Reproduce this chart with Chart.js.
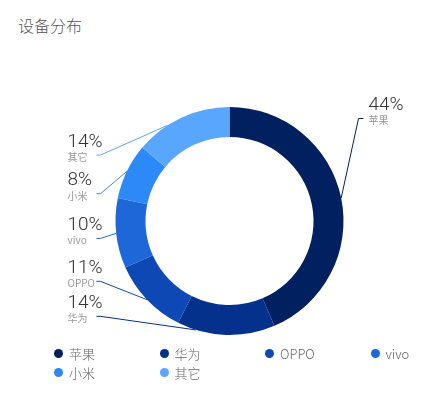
<!DOCTYPE html>
<html>
<head>
<meta charset="utf-8">
<title>设备分布</title>
<script src="https://cdn.jsdelivr.net/npm/chart.js@4.4.0/dist/chart.umd.min.js"></script>
<style>
  body { margin: 0; background: #fff; font-family: "Noto Sans CJK SC", "Noto Sans", sans-serif; }
  #wrap { position: relative; width: 442px; height: 409px; }
  #grafico { position: absolute; left: 0; top: 0; }
  #titulo { position: absolute; left: 18px; top: 16px; font-size: 16px; line-height: 18px; color: #555; font-weight: 300; }
  #leyenda { position: absolute; left: 54px; top: 344px; display: grid;
             grid-template-columns: repeat(4, 105.5px); grid-auto-rows: 19px;
             font-size: 13px; color: #666; font-weight: 300; }
  .item { display: flex; align-items: center; }
  .punto { width: 9px; height: 9px; border-radius: 50%; margin-right: 6px; }
</style>
</head>
<body>
<div id="wrap">
  <div id="titulo">设备分布</div>
  <canvas id="grafico" width="442" height="409"></canvas>
  <div id="leyenda"></div>
</div>
<script>
// Datos del gráfico
const marcas = ["苹果", "华为", "OPPO", "vivo", "小米", "其它"];
const porcentajes = [44, 14, 11, 10, 8, 14];
const colores = ["#00205f", "#03318c", "#0d48b5", "#1d67d8", "#2d88f8", "#59a6ff"];

// Busca el punto del arco donde arranca la línea guía (ángulo con la normal <= 81°)
function anguloAncla(arc, ex, ey, cx, cy, r) {
  const mid = (arc.startAngle + arc.endAngle) / 2;
  const half = (arc.endAngle - arc.startAngle) / 2 * 0.9;
  const maxA = 81 * Math.PI / 180;
  let best = mid, bestAng = Infinity;
  for (let s = 0; s <= 200; s++) {
    for (const sign of [1, -1]) {
      const a = mid + sign * half * s / 200;
      const px = cx + r * Math.cos(a), py = cy + r * Math.sin(a);
      const dx = ex - px, dy = ey - py;
      const ang = Math.acos((dx * Math.cos(a) + dy * Math.sin(a)) / Math.hypot(dx, dy));
      if (ang <= maxA) return a;
      if (ang < bestAng) { bestAng = ang; best = a; }
    }
  }
  return best;
}

// Separa las etiquetas de un lado para que no se encimen
function separar(lista, gap) {
  let bloques = lista.map(d => ({ items: [d], top: d.y }));
  let junto = true;
  while (junto) {
    junto = false;
    for (let k = 0; k < bloques.length - 1; k++) {
      const a = bloques[k], b = bloques[k + 1];
      if (a.top + a.items.length * gap > b.top) {
        const items = a.items.concat(b.items);
        const media = items.reduce((s, d) => s + d.y, 0) / items.length;
        bloques.splice(k, 2, { items, top: media - (items.length - 1) * gap / 2 });
        junto = true;
        break;
      }
    }
  }
  bloques.forEach(b => b.items.forEach((d, k) => { d.y = b.top + k * gap; }));
}

// Plugin: etiquetas con línea guía fuera de la dona
const etiquetas = {
  id: "etiquetas",
  afterDatasetsDraw(chart) {
    const ctx = chart.ctx;
    const arcs = chart.getDatasetMeta(0).data;
    const cx = arcs[0].x, cy = arcs[0].y, r = arcs[0].outerRadius;
    const gap = 35;
    const items = arcs.map((arc, i) => {
      const mid = (arc.startAngle + arc.endAngle) / 2;
      return { i, arc, derecha: Math.cos(mid) > 0, y: cy + r * 0.72 * Math.sin(mid) };
    });
    const izq = items.filter(d => !d.derecha).sort((a, b) => a.y - b.y);
    separar(izq, gap);
    const der = items.filter(d => d.derecha).sort((a, b) => a.y - b.y);
    der.forEach((d, k) => { d.y = cy - r + 3 + k * gap; });

    ctx.save();
    items.forEach(d => {
      const base = d.y;
      const ly = base + 8.5;
      let textX, codoX, finX;
      if (d.derecha) {
        textX = cx + r + 25; codoX = cx + r + 15; finX = cx + r + 20;
      } else {
        textX = cx - r - 48; codoX = cx - r - 15; finX = cx - r - 19;
      }
      const a = anguloAncla(d.arc, codoX, ly, cx, cy, r);
      ctx.strokeStyle = colores[d.i];
      ctx.lineWidth = 1;
      ctx.beginPath();
      ctx.moveTo(cx + r * Math.cos(a), cy + r * Math.sin(a));
      ctx.lineTo(codoX, ly);
      ctx.lineTo(finX, ly);
      ctx.stroke();

      ctx.textAlign = "left";
      ctx.fillStyle = "#333";
      ctx.font = '300 19px Roboto, "Noto Sans", sans-serif';
      ctx.textBaseline = "alphabetic";
      ctx.fillText(porcentajes[d.i] + "%", textX, base);
      ctx.fillStyle = "#999";
      ctx.font = '10px "Noto Sans CJK SC", "Noto Sans", sans-serif';
      ctx.textBaseline = "middle";
      ctx.fillText(marcas[d.i], textX, base + 10.5);
    });
    ctx.restore();
  }
};

const grafico = new Chart(document.getElementById("grafico"), {
  type: "doughnut",
  data: {
    labels: marcas,
    datasets: [{
      data: porcentajes,
      backgroundColor: colores,
      borderWidth: 0,
      hoverOffset: 0,
    }],
  },
  options: {
    responsive: false,
    animation: false,
    radius: 114,
    cutout: "73.7%",
    layout: { padding: { left: 117, right: 100, top: 107, bottom: 74 } },
    plugins: {
      legend: { display: false },
      title: { display: false },
      tooltip: { enabled: false },
    },
    events: [],
  },
  plugins: [etiquetas],
});

// Leyenda en HTML
const leyenda = document.getElementById("leyenda");
marcas.forEach((m, i) => {
  const item = document.createElement("div");
  item.className = "item";
  item.innerHTML = '<span class="punto" style="background:' + colores[i] + '"></span><span>' + m + "</span>";
  leyenda.appendChild(item);
});
</script>
</body>
</html>
